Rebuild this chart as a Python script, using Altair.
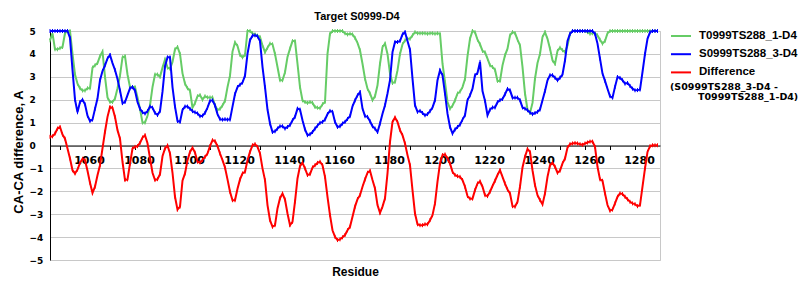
import altair as alt
import pandas as pd

residues = list(range(1046, 1290))

t_vals = [
    4.59, 4.9, 4.2, 4.2, 4.25, 4.3, 4.9, 5, 5, 4.0,
    3.1, 2.7, 2.5, 2.4, 2.4, 2.5, 2.5, 3.4, 3.5, 3.6,
    3.9, 4.1, 3.0, 2.1, 1.9, 1.9, 2.05, 2.5, 3.05, 3.85,
    3.9, 3.1, 2.55, 2.55, 2.55, 2.1, 1.6, 1.0, 1.0, 1.3,
    1.75, 2.55, 3.1, 3.1, 3.0, 3.4, 3.75, 3.4, 3.35, 3.65,
    4.2, 4.3, 4.0, 3.15, 2.7, 2.5, 2.4, 1.65, 1.85, 2.15,
    2.2, 2.0, 2.15, 2.1, 2.1, 2.1, 1.75, 1.55, 1.6, 1.75,
    1.95, 2.55, 3.05, 4.1, 4.5, 4.35, 3.95, 3.85, 3.95, 5,
    5, 4.9, 4.85, 4.8, 4.74, 4.37, 4.08, 4.27, 4.45, 4.42,
    4.0, 3.43, 2.85, 2.85, 3.2, 3.87, 4.23, 4.56, 4.56, 3.57,
    2.55, 1.97, 1.9, 1.86, 1.9, 1.86, 1.68, 1.65, 1.63, 1.8,
    1.9, 4.0, 4.88, 5, 5, 5, 5, 5, 4.9, 4.85,
    4.88, 4.85, 4.7, 4.48, 4.16, 3.57, 2.92, 2.48, 2.27, 1.98,
    2.15, 2.63, 3.57, 4.3, 4.45, 4.0, 3.14, 2.73, 2.77, 3.28,
    4.0, 4.42, 4.59, 4.66, 4.66, 4.81, 4.95, 4.9, 4.9, 4.9,
    4.9, 4.88, 4.9, 4.9, 4.88, 4.9, 4.88, 3.57, 2.77, 1.9,
    1.61, 1.74, 1.97, 2.27, 2.35, 2.55, 2.9, 3.9, 4.66, 5,
    4.95, 4.62, 4.42, 4.13, 4.07, 3.79, 3.5, 3.43, 3.31, 2.82,
    2.82, 3.5, 3.94, 4.23, 4.81, 4.95, 4.91, 4.62, 4.37, 3.43,
    2.27, 1.57, 1.42, 1.86, 2.92, 3.6, 4.0, 4.74, 4.95, 4.66,
    4.23, 3.72, 3.57, 4.13, 4.27, 4.16, 4.08, 4.37, 4.88, 5,
    5, 5, 5, 5, 5, 4.95, 4.88, 4.9, 4.9, 4.81,
    4.62, 4.45, 4.56, 4.9, 5, 5, 5, 5, 5, 5,
    5, 5, 5, 5, 5, 5, 5, 5, 5, 5,
    5, 5, 5, 5,
]

s_vals = [
    5, 5, 5, 5, 5, 5, 5, 5, 4.7, 3.3,
    2.0, 1.45, 1.9, 2.0, 1.8, 1.3, 1.07, 1.13, 1.6, 2.05,
    2.85, 3.25, 3.5, 3.8, 3.95, 3.6, 3.3, 2.9, 2.4, 1.85,
    1.9, 2.2, 2.5, 2.55, 2.4, 1.9, 1.6, 1.45, 1.4, 1.5,
    1.7, 1.65, 1.42, 1.33, 1.5, 2.35, 3.45, 3.85, 3.85, 2.55,
    1.7, 1.07, 1.03, 1.55, 1.7, 1.7, 1.6, 1.5, 1.45, 1.4,
    1.28, 1.3, 1.42, 1.65, 1.95, 1.97, 1.75, 1.37, 1.15, 1.13,
    1.15, 1.13, 1.13, 1.7, 2.25, 2.55, 2.65, 2.75, 3.05, 4.0,
    4.6, 4.8, 4.81, 4.77, 4.56, 3.43, 2.55, 1.57, 0.96, 0.59,
    0.62, 0.74, 0.84, 0.84, 0.74, 0.81, 0.89, 1.1, 1.25, 1.61,
    1.57, 1.1, 0.7, 0.45, 0.49, 0.59, 0.74, 0.87, 0.99, 1.03,
    1.13, 1.37, 1.51, 1.47, 1.03, 0.81, 0.84, 0.96, 1.03, 1.16,
    1.28, 1.71, 1.97, 2.19, 2.33, 1.61, 1.28, 1.25, 1.06, 0.84,
    0.74, 0.59, 0.96, 1.39, 1.76, 2.27, 2.85, 4.08, 4.52, 4.52,
    4.56, 4.85, 4.95, 4.56, 4.18, 2.92, 1.76, 1.47, 1.51, 1.42,
    1.32, 1.37, 1.5, 1.66, 1.98, 2.85, 3.28, 3.07, 2.27, 1.39,
    0.81, 0.52, 0.7, 0.81, 0.91, 1.13, 1.32, 1.98, 2.19, 2.48,
    3.07, 3.17, 3.65, 2.38, 1.95, 1.32, 1.57, 1.66, 1.66, 1.89,
    1.98, 2.03, 2.24, 2.47, 2.41, 2.09, 2.09, 2.09, 1.98, 1.66,
    1.61, 1.54, 1.44, 1.37, 1.42, 1.47, 1.57, 1.98, 2.38, 2.85,
    3.07, 3.07, 2.96, 2.85, 2.96, 3.1, 3.72, 4.56, 4.88, 5,
    5, 5, 5, 5, 5, 5, 5, 5, 4.88, 4.45,
    3.79, 3.14, 2.82, 2.48, 2.15, 2.09, 2.56, 2.99, 2.95, 2.85,
    2.7, 2.73, 2.6, 2.48, 2.41, 2.42, 2.44, 3.21, 4.0, 4.66,
    4.95, 5, 5, 5,
]

d_vals = [
    0.38, 0.4, 0.52, 0.74, 0.81, 0.48, 0.3, -0.13, -0.57, -1.08,
    -1.22, -1.05, -0.76, -0.58, -0.64, -1.1, -1.63, -2.07, -1.8, -1.3,
    -0.86, -0.13, 0.6, 1.25, 1.68, 1.65, 1.25, 0.67, 0.3, -0.71,
    -1.51, -1.48, -0.79, -0.13, -0.06, -0.03, 0.11, 0.35, 0.45, 0.1,
    -0.55, -1.19, -1.51, -1.47, -1.25, -0.47, -0.13, 0.0, -0.35, -1.19,
    -2.24, -2.8, -2.67, -1.54, -1.22, -0.64, -0.28, -0.1, -0.31, -0.71,
    -0.74, -0.63, -0.5, -0.35, -0.03, 0.23, 0.19, -0.03, -0.35, -0.64,
    -0.96, -1.48, -2.02, -2.39, -2.39, -1.89, -1.48, -1.22, -1.15, -0.64,
    -0.28, 0.01, 0.06, -0.06, -0.35, -1.0, -1.51, -2.6, -3.26, -3.55,
    -3.48, -2.75, -2.3, -2.1, -2.36, -2.97, -3.48, -3.33, -2.45, -1.44,
    -0.9, -0.76, -1.0, -1.29, -1.25, -0.96, -0.86, -0.76, -0.71, -0.86,
    -1.37, -2.24, -3.04, -3.7, -3.99, -4.13, -4.1, -4.01, -3.91, -3.7,
    -3.55, -3.11, -2.67, -2.34, -2.17, -1.8, -1.48, -1.19, -1.1, -1.51,
    -1.88, -2.6, -2.94, -2.67, -2.31, -1.22, 0.16, 1.03, 1.22, 1.03,
    0.67, 0.45, 0.09, -0.42, -0.86, -1.95, -2.97, -3.44, -3.48, -3.48,
    -3.44, -3.44, -3.26, -3.04, -2.53, -1.58, -0.78, -0.42, -0.39, -0.57,
    -0.78, -1.15, -1.29, -1.34, -1.37, -1.51, -1.8, -2.21, -2.32, -2.32,
    -1.95, -1.66, -1.57, -1.8, -2.17, -2.21, -2.02, -1.77, -1.54, -1.29,
    -1.08, -1.37, -1.66, -1.92, -2.09, -2.65, -2.67, -2.46, -1.8, -0.96,
    -0.49, -0.15, -0.28, -1.08, -1.73, -2.17, -2.38, -2.57, -2.09, -1.37,
    -0.86, -0.76, -0.93, -1.19, -1.1, -0.78, -0.57, -0.09, 0.06, 0.09,
    0.11, 0.09, 0.06, 0.03, 0.09, 0.13, 0.17, 0.17, -0.06, -0.93,
    -1.48, -1.54, -2.09, -2.6, -2.85, -2.8, -2.53, -2.24, -2.09, -2.12,
    -2.24, -2.35, -2.46, -2.53, -2.56, -2.65, -2.6, -1.8, -1.0, -0.28,
    -0.03, 0.01, 0.01, 0.01,
]

series_names = ["T0999TS288_1-D4", "S0999TS288_3-D4", "Difference"]
series_colors = ["#66CC66", "#0000FF", "#FF0000"]
legend_note = ["(S0999TS288_3-D4 -", "T0999TS288_1-D4)"]
chart_title = ["Target S0999-D4"]
x_tick_values = list(range(1050, 1290, 10))
y_tick_values = list(range(-5, 6))

rows = []
for name, vals in zip(series_names, [t_vals, s_vals, d_vals]):
    for r, v in zip(residues, vals):
        rows.append({"Residue": r, "value": v, "series": name})
df = pd.DataFrame(rows)

W, H = 610, 229
LEFT, TOP = 50, 31

x_enc = alt.X(
    "Residue:Q",
    scale=alt.Scale(domain=[1046, 1290], nice=False, zero=False),
    axis=alt.Axis(
        orient="bottom", offset=-H / 2, values=x_tick_values, format="d",
        labelExpr="datum.value % 20 == 0 ? datum.label : ''",
        grid=False, domainColor="black", tickColor="black", tickSize=4,
        labelPadding=5, labelOffset=4, labelFlush=False, labelOverlap=False,
        labelFont="DejaVu Sans", labelFontSize=11, labelFontWeight="bold",
        labelColor="black", labelBaseline="top",
        title="Residue", titleFont="Liberation Sans", titleFontSize=12,
        titleFontWeight="bold", titleColor="black",
        titleY=H / 2 + 15, titleBaseline="alphabetic",
    ),
)
y_enc = alt.Y(
    "value:Q",
    scale=alt.Scale(domain=[-5, 5], nice=False, zero=False),
    axis=alt.Axis(
        values=y_tick_values, grid=True, gridColor="#C8C8C8", gridWidth=1,
        domainColor="black", ticks=False, labelAlign="left", labelPadding=21,
        labelExpr="datum.value < 0 ? '\u2212' + abs(datum.value) : datum.label",
        labelFont="DejaVu Sans", labelFontSize=9, labelFontWeight="bold",
        labelColor="black",
        title="CA-CA difference, A", titleFont="Liberation Sans",
        titleFontSize=13, titleFontWeight="bold", titleColor="black",
        titleX=-28, titleY=H / 2 + 6, titleAngle=270,
        titleBaseline="alphabetic",
    ),
)
color_enc = alt.Color(
    "series:N",
    scale=alt.Scale(domain=series_names, range=series_colors),
    legend=alt.Legend(
        orient="none", legendX=620, legendY=-6, title=None,
        symbolType="stroke", symbolSize=400, symbolStrokeWidth=2,
        labelFont="Liberation Sans", labelFontSize=11.5,
        labelFontWeight="bold", labelColor="black",
        labelOffset=7, rowPadding=1.2, padding=0,
    ),
)

layers = []
for name in series_names:
    sub = alt.Chart(df).transform_filter(alt.datum.series == name)
    layers.append(
        sub.mark_line(strokeWidth=2).encode(x=x_enc, y=y_enc, color=color_enc)
    )
    layers.append(
        sub.mark_point(shape="M0,-1L0,1", filled=False, size=16, strokeWidth=1,
                       opacity=1).encode(x=x_enc, y=y_enc, color=color_enc)
    )

note1 = alt.Chart(pd.DataFrame({"t": [legend_note[0]]})).mark_text(
    align="left", baseline="middle", font="DejaVu Sans", fontSize=9.5,
    fontWeight="bold", color="black",
).encode(text="t:N", x=alt.value(620), y=alt.value(56))
note2 = alt.Chart(pd.DataFrame({"t": [legend_note[1]]})).mark_text(
    align="left", baseline="middle", font="DejaVu Sans", fontSize=9.5,
    fontWeight="bold", color="black",
).encode(text="t:N", x=alt.value(648), y=alt.value(66))

title_mark = alt.Chart(pd.DataFrame({"t": chart_title})).mark_text(
    align="center", baseline="alphabetic", font="Liberation Sans",
    fontSize=11, fontWeight="bold", color="black",
).encode(text="t:N", x=alt.value(307), y=alt.value(-11))

chart = alt.layer(*layers, note1, note2, title_mark).properties(
    width=W, height=H,
    padding={"left": LEFT, "top": TOP, "right": 140, "bottom": 40},
    autosize=alt.AutoSizeParams(type="none"),
    background="white",
).configure_view(stroke="#C8C8C8", strokeWidth=1)

chart.save("out.html", embed_options={"renderer": "svg", "actions": False})
